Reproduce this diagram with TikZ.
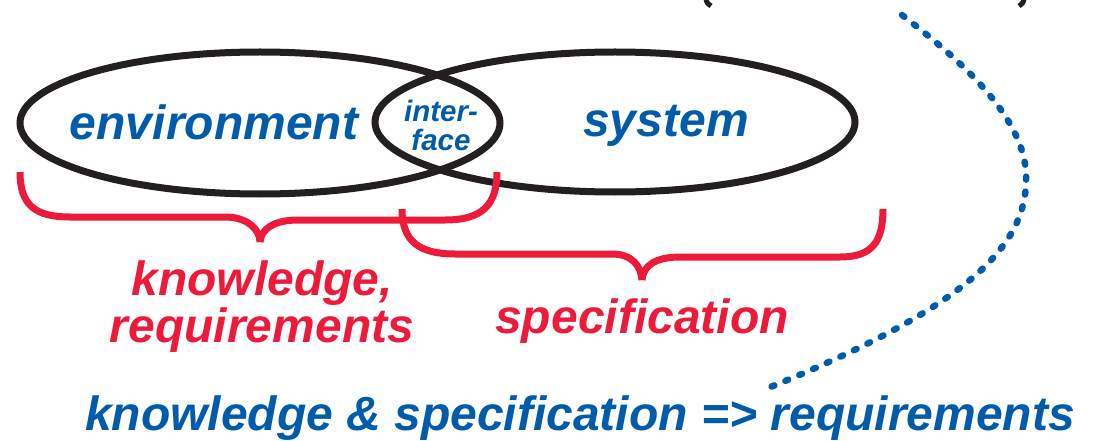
\documentclass[tikz,border=0pt]{standalone}
\usepackage{fontspec}
\setmainfont{Liberation Sans}
\definecolor{inkblue}{HTML}{005BAA}
\definecolor{inkred}{HTML}{ED1B3B}
\definecolor{inkblack}{HTML}{231F20}
\begin{document}
\begin{tikzpicture}[x=1pt,y=-1pt,
  lbl/.style={font=\bfseries\itshape\fontsize{48}{48}\selectfont, inner sep=0pt, anchor=base},
  small/.style={font=\bfseries\itshape\fontsize{29.5}{29.5}\selectfont, inner sep=0pt, anchor=base},
  ring/.style={draw=inkblack, line width=7pt},
  bracestroke/.style={draw=inkred, line width=7pt},
  dotline/.style={draw=inkblue, line width=6.5pt, line cap=round, dash pattern=on 3pt off 12pt}]
\useasboundingbox (0,0) rectangle (1095,441);

% fragments of the bracketed line above
\draw[inkblack, line width=5pt] (706,-1) .. controls (707,3) .. (711,6);
\draw[inkblack, line width=5pt] (1024,-1) .. controls (1023,3) .. (1019,6);

% the two overlapping domains
\draw[ring] (260,123) ellipse [x radius=240, y radius=71];
\draw[ring] (615,122) ellipse [x radius=240, y radius=70];

\node[lbl, text=inkblue] (env) at (214,140) {environment};
\node[lbl, text=inkblue] (sys) at (666,137) {system};
\node[small, text=inkblue] (intf1) at (441,122) {inter-};
\node[small, text=inkblue] (intf2) at (441,150) {face};

% brace under environment + interface
\draw[bracestroke] (20,172) .. controls (20,205) and (35,217) .. (70,217) -- (225,217)
  .. controls (248,217) and (260,230) .. (260,242);
\draw[bracestroke] (260,242) .. controls (261,229) and (274,220) .. (298,220) -- (445,220)
  .. controls (482,220) and (497,205) .. (497,172);

% brace under interface + system
\draw[bracestroke] (402,209) .. controls (402,242) and (420,254) .. (455,254) -- (612,254)
  .. controls (632,254) and (641,266) .. (642,280);
\draw[bracestroke] (642,280) .. controls (643,266) and (655,257) .. (680,257) -- (840,257)
  .. controls (872,257) and (883,242) .. (883,209);

\node[lbl, text=inkred] (know1) at (262,295) {knowledge,};
\node[lbl, text=inkred] (know2) at (262,342) {requirements};
\node[lbl, text=inkred] (spec) at (642,333) {specification};

\node[lbl, text=inkblue] (concl) at (580,430) {knowledge \& specification => requirements};

% dotted link from the top line down to the conclusion
\coordinate (dtop) at (902,15);
\coordinate (dend) at (768,388);
\draw[dotline] (dtop) .. controls (960,60) and (1030,120) .. (1026,183)
  .. controls (1024,250) and (960,310) .. (dend);
\end{tikzpicture}
\end{document}
